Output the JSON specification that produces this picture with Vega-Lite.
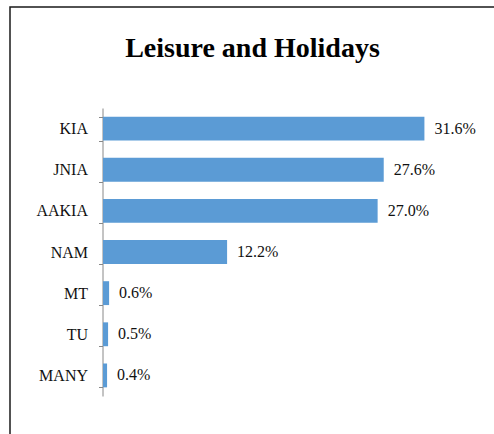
{
  "$schema": "https://vega.github.io/schema/vega-lite/v6.json",
  "autosize": "none",
  "padding": {"left": 10, "top": 7, "right": 0, "bottom": 0},
  "width": 520,
  "height": 460,
  "title": {
    "text": "Leisure and Holidays",
    "font": "Liberation Serif",
    "fontSize": 28,
    "fontWeight": "bold",
    "color": "#000000",
    "anchor": "middle",
    "frame": "group",
    "baseline": "alphabetic",
    "offset": -50.5,
    "dx": -17.5,
    "dy": 35.5
  },
  "data": {
    "values": [
      {"airport": "KIA", "share": 0.316},
      {"airport": "JNIA", "share": 0.276},
      {"airport": "AAKIA", "share": 0.270},
      {"airport": "NAM", "share": 0.122},
      {"airport": "MT", "share": 0.006},
      {"airport": "TU", "share": 0.005},
      {"airport": "MANY", "share": 0.004}
    ]
  },
  "encoding": {
    "y": {
      "field": "airport",
      "type": "nominal",
      "sort": null,
      "scale": {"range": [101, 389], "paddingInner": 0.42, "paddingOuter": 0.21},
      "axis": {
        "title": null,
        "offset": -92.5,
        "tickBand": "extent",
        "tickSize": 4,
        "tickColor": "#888888",
        "domainColor": "#888888",
        "labelFont": "Liberation Serif",
        "labelFontSize": 16,
        "labelColor": "#111111",
        "labelPadding": 11,
        "grid": false
      }
    },
    "x": {
      "field": "share",
      "type": "quantitative",
      "scale": {"domain": [0, 0.35], "range": [93, 449]},
      "axis": null
    }
  },
  "layer": [
    {"mark": {"type": "bar", "color": "#5B9BD5"}},
    {
      "mark": {"type": "text", "align": "left", "baseline": "middle", "dx": 10, "font": "Liberation Serif", "fontSize": 16, "color": "#111111"},
      "encoding": {"text": {"field": "share", "type": "quantitative", "format": ".1%"}}
    }
  ],
  "config": {
    "view": {"stroke": "#1a1a1a", "strokeWidth": 1.5}
  }
}
